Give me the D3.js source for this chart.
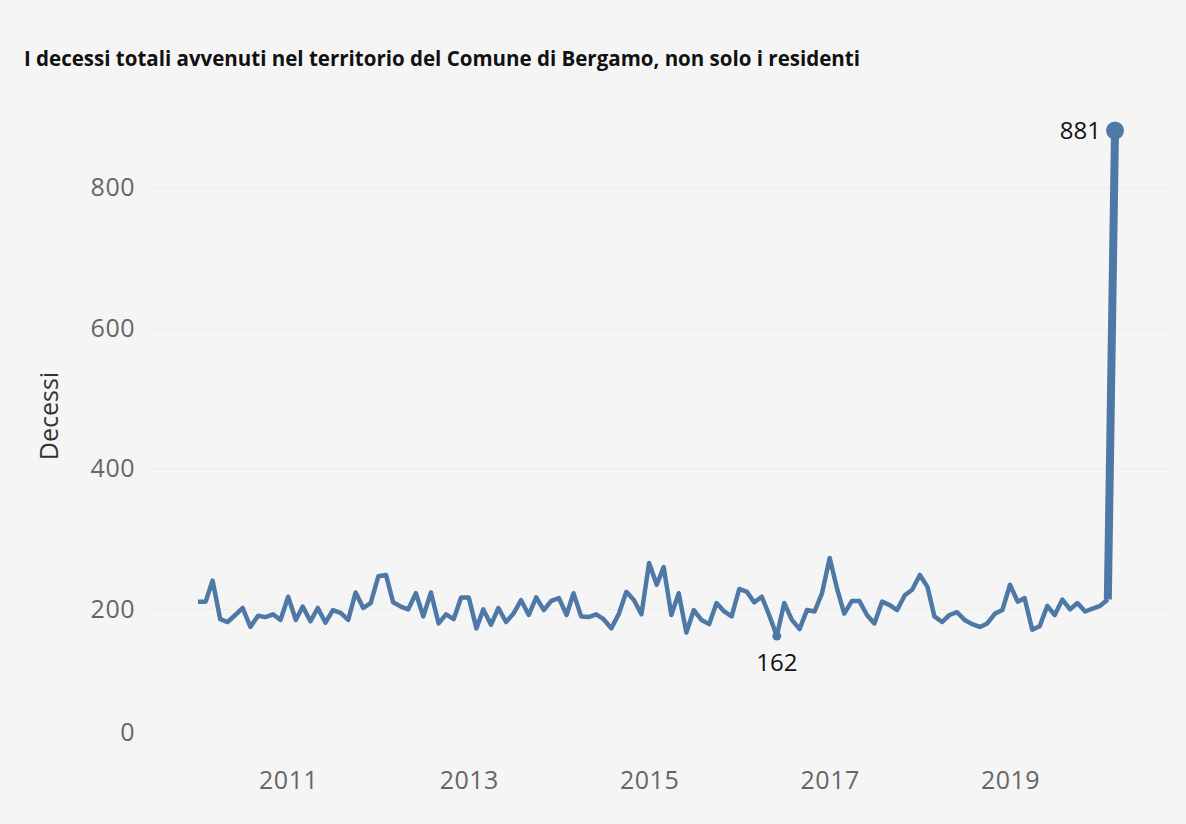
<!DOCTYPE html>
<html>
<head>
<meta charset="utf-8">
<script src="https://cdn.jsdelivr.net/npm/d3@7"></script>
<style>
    body { margin: 0; background: #f5f5f5; }
    svg { display: block; font-family: 'Open Sans', Lato, sans-serif; }
    .axis text { fill: #666; font-size: 25px; letter-spacing: 0.5px; font-family: 'Open Sans', sans-serif; }
    .chart-title { font-size: 20.5px; font-weight: bold; fill: #111; }
    .axis-title { font-size: 25px; fill: #333; }
    .mark-label { font-size: 24px; fill: #111; }
</style>
</head>
<body>
<div id="chart"></div>
<script>
// monthly deaths, Jan 2010 .. Mar 2020
const years = [2010, 2011, 2012, 2013, 2014, 2015, 2016, 2017, 2018, 2019, 2020]
const deaths = [
    211, 211, 241, 186, 182, 192, 202, 175, 191, 189, 193, 185,
    218, 185, 204, 183, 202, 181, 199, 195, 185, 224, 202, 209,
    247, 249, 210, 204, 200, 223, 190, 224, 180, 193, 186, 217,
    217, 173, 200, 178, 202, 182, 194, 213, 192, 217, 199, 212,
    216, 192, 223, 190, 189, 193, 186, 173, 194, 225, 213, 193,
    266, 235, 260, 192, 223, 167, 199, 185, 179, 209, 197, 190,
    229, 225, 210, 218, 192, 162, 209, 185, 172, 199, 197, 223,
    273, 228, 194, 212, 212, 192, 180, 211, 206, 199, 220, 228,
    249, 232, 190, 182, 192, 196, 185, 179, 175, 180, 194, 199,
    235, 211, 216, 171, 176, 205, 192, 214, 200, 209, 197, 201,
    205, 214, 881
]
const yTicks = [0, 200, 400, 600, 800]
const xTickYears = [2011, 2013, 2015, 2017, 2019]

class DeathsLine {
    constructor(_config, data) {
        this.config = {
            parentElement: _config.parentElement,
            containerWidth: _config.containerWidth || 1186,
            containerHeight: _config.containerHeight || 824
        }
        this.data = data;
        this.initVis();
    }

    initVis() {
        let vis = this;

        vis.svg = d3.select(vis.config.parentElement).append('svg')
            .attr('width', vis.config.containerWidth)
            .attr('height', vis.config.containerHeight)
            .style('background-color', '#f5f5f5');

        vis.xScale = d3.scaleTime()
            .domain([new Date(2010, 0, 1), new Date(2020, 2, 1)])
            .range([198, 1115]);

        vis.yScale = d3.scaleLinear()
            .domain([0, 800])
            .range([750, 187.5]);

        vis.svg.append('text')
            .attr('class', 'chart-title')
            .attr('x', 24)
            .attr('y', 66)
            .text('I decessi totali avvenuti nel territorio del Comune di Bergamo, non solo i residenti');

        vis.svg.append('text')
            .attr('class', 'axis-title')
            .attr('transform', 'translate(58,416) rotate(-90)')
            .attr('text-anchor', 'middle')
            .text('Decessi');
    }

    renderVis() {
        let vis = this;

        // gridlines (the 0 line falls below the pane, so skip it)
        vis.svg.selectAll('.grid')
            .data(yTicks.filter(d => d > 0))
            .join('line')
            .attr('class', 'grid')
            .attr('x1', 152)
            .attr('x2', 1170)
            .attr('y1', d => vis.yScale(d))
            .attr('y2', d => vis.yScale(d))
            .attr('stroke', '#ececec')
            .attr('stroke-width', 1);

        const yAxisG = vis.svg.append('g')
            .attr('class', 'axis y-axis')
            .attr('transform', 'translate(143,0)')
            .call(d3.axisLeft(vis.yScale).tickValues(yTicks).tickSize(0).tickPadding(8))
            .call(g => g.select('.domain').remove());
        // tableau keeps the 0 label inside the pane
        yAxisG.selectAll('.tick')
            .filter(d => d === 0)
            .select('text')
            .attr('dy', '-0.4em');

        vis.svg.append('g')
            .attr('class', 'axis x-axis')
            .attr('transform', 'translate(0,768)')
            .call(d3.axisBottom(vis.xScale)
                .tickValues(xTickYears.map(y => new Date(y, 0, 1)))
                .tickFormat(d3.timeFormat('%Y'))
                .tickSize(0)
                .tickPadding(3))
            .call(g => g.select('.domain').remove());

        const line = d3.line()
            .x(d => vis.xScale(d.date))
            .y(d => vis.yScale(d.value));

        const n = vis.data.length;
        vis.svg.append('path')
            .datum(vis.data.slice(0, n - 1))
            .attr('fill', 'none')
            .attr('stroke', '#4e79a7')
            .attr('stroke-width', 4.5)
            .attr('stroke-linejoin', 'round')
            .attr('d', line);

        // the march 2020 jump is drawn heavier
        vis.svg.append('path')
            .datum(vis.data.slice(n - 2))
            .attr('fill', 'none')
            .attr('stroke', '#4e79a7')
            .attr('stroke-width', 8)
            .attr('d', line);

        const minD = d3.least(vis.data, d => d.value);
        const maxD = d3.greatest(vis.data, d => d.value);

        vis.svg.selectAll('.extreme')
            .data([minD, maxD])
            .join('circle')
            .attr('class', 'extreme')
            .attr('cx', d => vis.xScale(d.date))
            .attr('cy', d => vis.yScale(d.value))
            .attr('r', d => d === maxD ? 9 : 4.5)
            .attr('fill', '#4e79a7');

        vis.svg.append('text')
            .attr('class', 'mark-label')
            .attr('x', vis.xScale(minD.date))
            .attr('y', vis.yScale(minD.value) + 35)
            .attr('text-anchor', 'middle')
            .text(minD.value);

        vis.svg.append('text')
            .attr('class', 'mark-label')
            .attr('x', vis.xScale(maxD.date) - 14)
            .attr('y', vis.yScale(maxD.value) + 8)
            .attr('text-anchor', 'end')
            .text(maxD.value);
    }
}

const data = deaths.map((v, i) => ({ date: new Date(years[0], i, 1), value: v }));
const chart = new DeathsLine({ parentElement: '#chart' }, data);
chart.renderVis();
</script>
</body>
</html>
